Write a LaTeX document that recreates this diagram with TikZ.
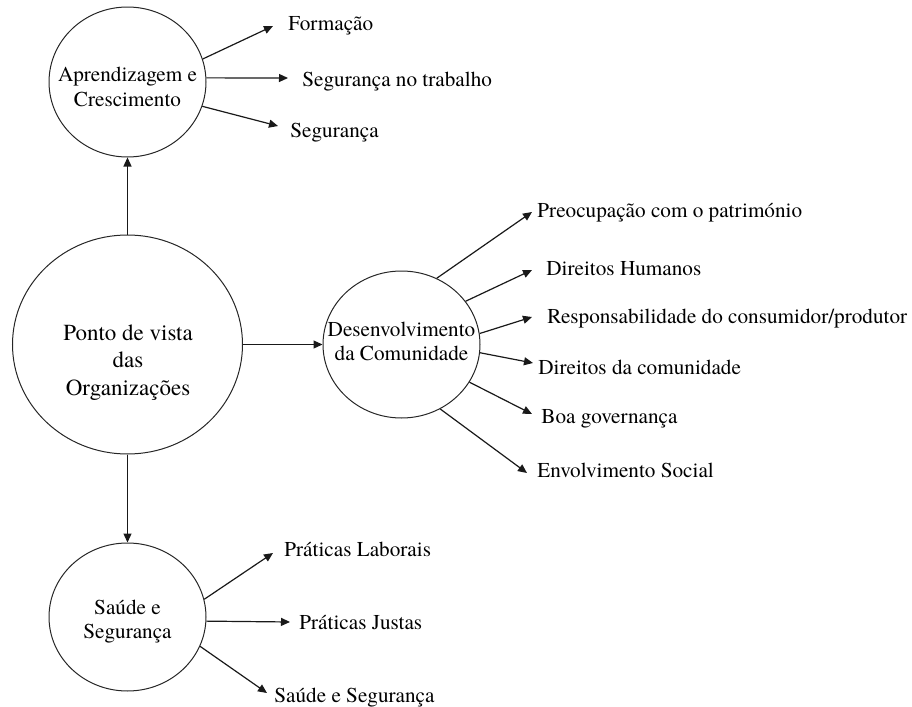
\documentclass[tikz,border=0pt]{standalone}
\usepackage{fontspec}
\setmainfont{texgyretermes}[Extension=.otf, UprightFont=*-regular, BoldFont=*-bold, ItalicFont=*-italic, BoldItalicFont=*-bolditalic]
\usetikzlibrary{shapes.geometric,arrows.meta}
\begin{document}
\begin{tikzpicture}[x=0.5pt,y=-0.5pt,
  bubble/.style={draw=black!85, line width=0.5pt, ellipse, inner sep=0pt},
  circtext/.style={align=center, inner sep=0pt},
  lbl/.style={anchor=base west, inner sep=0pt, font=\fontsize{10.6}{13}\selectfont},
  arr/.style={draw=black!90, line width=0.6pt, -{Triangle[length=4.5pt,width=4pt]}}
]
\useasboundingbox (0,0) rectangle (912,707);

% circles
\node[bubble, minimum width=78.5pt, minimum height=75pt] (ac) at (127.5,82) {};
\node[bubble, minimum width=115pt, minimum height=109.5pt] (pv) at (127.5,344.5) {};
\node[bubble, minimum width=78.5pt, minimum height=73.5pt] (dc) at (401.5,344.5) {};
\node[bubble, minimum width=78.5pt, minimum height=74pt] (ss) at (127.5,617) {};

% circle texts
\node[circtext, font=\fontsize{10.6}{12.5}\selectfont] (actext) at (127.5,88.5) {\strut Aprendizagem e\\\strut Crescimento};
\node[circtext, font=\fontsize{11.5}{13.75}\selectfont] (pvtext) at (128,362) {\strut Ponto de vista\\\strut das\\\strut Organizações};
\node[circtext, font=\fontsize{10.6}{12}\selectfont] (dctext) at (401.5,343.2) {\strut Desenvolvimento\\\strut da Comunidade};
\node[circtext, font=\fontsize{10.6}{12}\selectfont] (sstext) at (127.5,621.2) {\strut Saúde e\\\strut Segurança};

% main connectors
\draw[arr] (pv.north) -- (ac.south);
\draw[arr] (pv.east) -- (dc.west);
\draw[arr] (pv.south) -- (ss.north);

% top labels
\node[lbl] (l1) at (288,30) {Formação};
\node[lbl] (l2) at (302,86) {Segurança no trabalho};
\node[lbl] (l3) at (290,137) {Segurança};
\coordinate (t1) at (273,26);
\coordinate (t2) at (288,78);
\coordinate (t3) at (278,126);
\draw[arr] (ac.17) -- (t1);
\draw[arr] (ac.3) -- (t2);
\draw[arr] (ac.-18.5) -- (t3);

% middle labels
\node[lbl] (m1) at (537,217) {Preocupação com o património};
\node[lbl] (m2) at (546,275) {Direitos Humanos};
\node[lbl] (m3) at (547,323) {Responsabilidade do consumidor/produtor};
\node[lbl] (m4) at (538,374) {Direitos da comunidade};
\node[lbl] (m5) at (541,423) {Boa governança};
\node[lbl] (m6) at (537,477) {Envolvimento Social};
\coordinate (u1) at (532,212);
\coordinate (u2) at (532,270);
\coordinate (u3) at (532,317);
\coordinate (u4) at (533,363);
\coordinate (u5) at (532,414);
\coordinate (u6) at (527,473);
\draw[arr] (dc.62.3) -- (u1);
\draw[arr] (dc.34.6) -- (u2);
\draw[arr] (dc.8.8) -- (u3);
\draw[arr] (dc.-6.9) -- (u4);
\draw[arr] (dc.-29.3) -- (u5);
\draw[arr] (dc.-59.3) -- (u6);

% bottom labels
\node[lbl] (b1) at (284,556) {Práticas Laborais};
\node[lbl] (b2) at (299,629) {Práticas Justas};
\node[lbl] (b3) at (274,702) {Saúde e Segurança};
\coordinate (v1) at (273,553);
\coordinate (v2) at (290,622);
\coordinate (v3) at (267,693);
\draw[arr] (ss.13.2) -- (v1);
\draw[arr] (ss.-3.6) -- (v2);
\draw[arr] (ss.-22.5) -- (v3);
\end{tikzpicture}
\end{document}
